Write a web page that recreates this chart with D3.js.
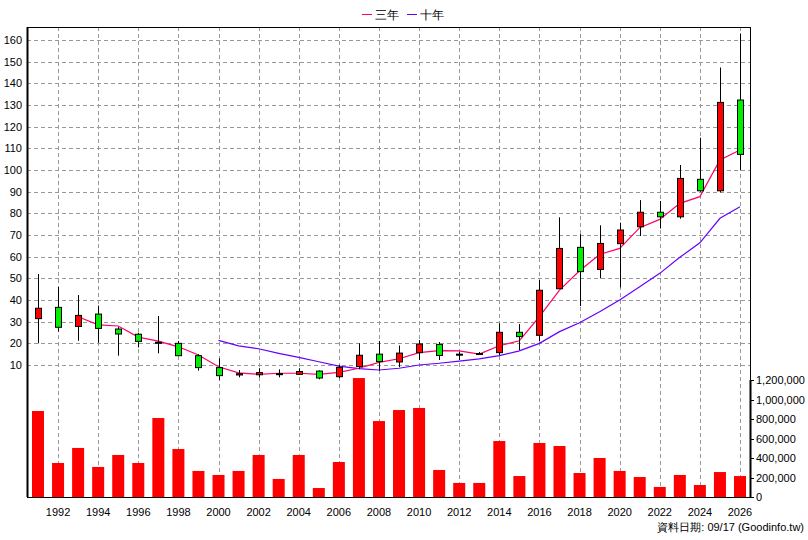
<!DOCTYPE html>
<html><head><meta charset="utf-8">
<script src="https://cdn.jsdelivr.net/npm/d3@7"></script>
<style>body{margin:0;background:#fff}svg{font-family:Arial,"Liberation Sans",sans-serif}</style>
</head><body><svg id="c" width="808" height="540"></svg>
<script>
const years=d3.range(1991,2027);
const open =[31.4,36.6,27.8,33.5,26.6,24.2,20.5,20,14.3,8.8,5.4,5.5,6.0,5.7,7.2,4.6,9.3,15,11.4,15.7,19.5,15,15.3,15.7,25.1,23.7,45.2,64.3,54.1,66,73.8,80.5,78.4,95.7,90.4,132.3];
const close=[36.2,27.4,32.9,26.9,24.3,20.9,20.5,14.3,8.8,5.1,6.0,6.5,6.0,7.0,4.0,8.9,14.5,11.6,15.5,19.7,14.4,15,15.3,25.1,23.1,44.5,63.8,53.1,66.1,72.3,80.5,78.4,96.1,90.4,131.2,107.2];
const high =[52,46,42.3,37.4,27.5,24.9,32.6,21.1,15,13.1,7.7,8.5,8,8.5,7.5,10,20,21.1,19,21.5,20.6,16.1,16,29.2,28.9,49.2,78.2,70.4,74.5,75.7,86.1,85.7,102.3,114.9,147.3,163];
const low  =[20,25.4,21.2,20.3,14.3,18.1,15.4,14.3,7.4,3,4.3,4.3,4.3,5.5,3.4,3.9,8.1,7.4,9,12.3,12.3,12.3,15,14.6,16.9,20.9,45.2,37.2,50,45.8,69.5,73,77.5,90,89.7,100];
const ma3=[null,null,32.3,28.5,28,22.9,21,18.4,14.6,9.2,6.4,5.7,6.2,6.2,5.7,6.6,8.5,11.2,12.9,15.7,16.6,16.5,15,18.9,21.2,32.3,44.6,53.5,61,63.8,73.4,77.2,84.6,87.7,104.6,109.2];
const ma10=[null,null,null,null,null,null,null,null,null,21.4,18.8,17.5,15.4,13.5,11.5,9.5,8.3,7.7,8.5,10,10.8,11.8,12.8,14.3,16.5,20,25.4,29.5,34.6,40,46.1,52.3,59.7,66.4,77.7,83];
const volume=[882000,349000,503000,308000,431000,349000,810000,492000,267000,226000,267000,431000,185000,431000,92000,359000,1220000,779000,892000,913000,277000,144000,144000,574000,215000,554000,523000,246000,400000,267000,205000,103000,226000,123000,256000,215000];
const priceTicks=d3.range(10,161,10);
const volTicks=d3.range(0,1200001,200000);
const yearTicks=d3.range(1992,2027,2);

const svg=d3.select("#c");
const L=27,R=750,T=27,PB=380,VB=497;
const x=d3.scaleLinear().domain([1991,2026]).range([38,740]);
const y=d3.scaleLinear().domain([3.08,166]).range([PB,T]);
const yv=d3.scaleLinear().domain([0,1200000]).range([VB,VB-117]);

// grid
const g=svg.append("g").attr("stroke","#999").attr("stroke-dasharray","4,3").attr("stroke-width",1);
priceTicks.forEach(v=>g.append("line").attr("x1",L).attr("x2",R).attr("y1",Math.round(y(v))+.5).attr("y2",Math.round(y(v))+.5));
yearTicks.forEach(v=>g.append("line").attr("x1",Math.round(x(v))+.5).attr("x2",Math.round(x(v))+.5).attr("y1",T).attr("y2",VB));

// volume bars
svg.append("g").selectAll("rect").data(years).join("rect")
 .attr("x",(d)=>x(d)-6).attr("width",12)
 .attr("y",(d,i)=>yv(volume[i])).attr("height",(d,i)=>VB-yv(volume[i])).attr("fill","#ff0000");

// ma lines
const line=arr=>d3.line().defined(d=>arr[d-1991]!=null).x(d=>x(d)).y(d=>y(arr[d-1991]))(years);
svg.append("path").attr("d",line(ma10)).attr("fill","none").attr("stroke","#6600ff").attr("stroke-width",1.2);
svg.append("path").attr("d",line(ma3)).attr("fill","none").attr("stroke","#ff0066").attr("stroke-width",1.2);

// candles
const cg=svg.append("g");
years.forEach((yr,i)=>{
 const cx=Math.round(x(yr))+.5;
 cg.append("line").attr("x1",cx).attr("x2",cx).attr("y1",y(high[i])).attr("y2",y(low[i])).attr("stroke","#000");
 const t=y(Math.max(open[i],close[i])), b=y(Math.min(open[i],close[i]));
 const col=close[i]>open[i]?"#ff0000":close[i]<open[i]?"#00ee00":"#000";
 cg.append("rect").attr("x",cx-3).attr("width",6).attr("y",t).attr("height",Math.max(1,b-t)).attr("fill",col).attr("stroke","#000");
});

// frame
svg.append("line").attr("x1",L+.5).attr("x2",L+.5).attr("y1",T).attr("y2",VB).attr("stroke","#000").attr("stroke-width",2);
svg.append("line").attr("x1",L).attr("x2",R).attr("y1",T+.5).attr("y2",T+.5).attr("stroke","#000");
svg.append("line").attr("x1",R+.5).attr("x2",R+.5).attr("y1",T).attr("y2",PB).attr("stroke","#000");
svg.append("line").attr("x1",R+.5).attr("x2",R+.5).attr("y1",PB).attr("y2",VB).attr("stroke","#000").attr("stroke-width",2);
svg.append("line").attr("x1",L).attr("x2",R).attr("y1",VB+.5).attr("y2",VB+.5).attr("stroke","#000");

// axes labels
const ax=svg.append("g").attr("font-size",11).attr("fill","#000");
priceTicks.forEach(v=>ax.append("text").attr("x",22).attr("y",y(v)+4).attr("text-anchor","end").text(v));
volTicks.forEach(v=>{ax.append("text").attr("x",756).attr("y",yv(v)+4).text(d3.format(",")(v));
 svg.append("line").attr("x1",R).attr("x2",R+4).attr("y1",Math.round(yv(v))+.5).attr("y2",Math.round(yv(v))+.5).attr("stroke","#000");});
yearTicks.forEach(v=>ax.append("text").attr("x",x(v)).attr("y",516).attr("text-anchor","middle").text(v));

// legend
const lg=svg.append("g").attr("font-size",12);
lg.append("line").attr("x1",362).attr("x2",372).attr("y1",14.5).attr("y2",14.5).attr("stroke","#ff0066");
lg.append("text").attr("x",375).attr("y",19).text("三年");
lg.append("line").attr("x1",407).attr("x2",417).attr("y1",14.5).attr("y2",14.5).attr("stroke","#6600ff");
lg.append("text").attr("x",420).attr("y",19).text("十年");
svg.append("text").attr("x",804).attr("y",531).attr("text-anchor","end").attr("font-size",11).text("資料日期: 09/17  (Goodinfo.tw)");
</script></body></html>
